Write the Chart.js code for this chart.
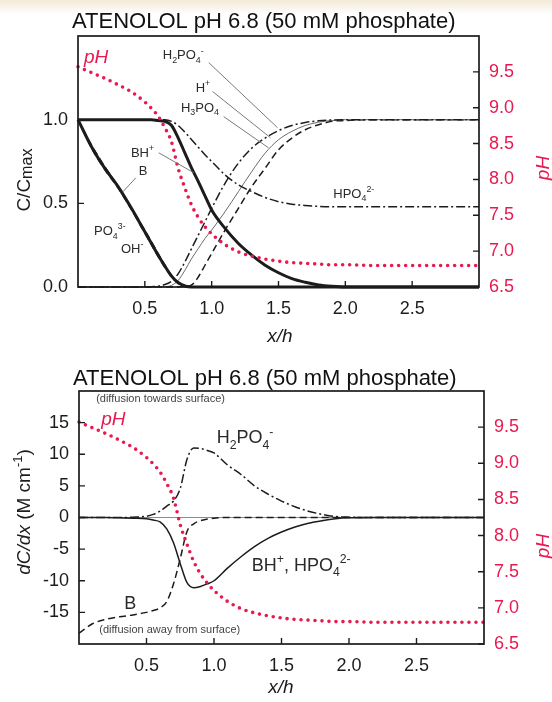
<!DOCTYPE html>
<html>
<head>
<meta charset="utf-8">
<title>Atenolol pH 6.8 profiles</title>
<script src="https://cdn.jsdelivr.net/npm/chart.js@4.4.1/dist/chart.umd.min.js"></script>
<style>
  html, body { margin: 0; padding: 0; }
  body { width: 552px; height: 702px; background: linear-gradient(#f3ead6 0px, #ffffff 14px); }
  canvas { display: block; }
</style>
</head>
<body>
<canvas id="concChart" width="552" height="351"></canvas>
<canvas id="gradChart" width="552" height="351"></canvas>
<script>
// distance from the surface, x/h
const xh = [0, 0.1, 0.2, 0.3, 0.4, 0.5, 0.55, 0.6, 0.65, 0.7, 0.75, 0.8, 0.85, 0.9, 0.95, 1.0,
            1.1, 1.2, 1.3, 1.4, 1.5, 1.6, 1.7, 1.8, 1.9, 2.0, 2.2, 2.5, 3.0];

// pH profile (right axis, same in both panels)
const pH = [9.57, 9.49, 9.41, 9.32, 9.22, 9.08, 8.99, 8.88, 8.72, 8.52, 8.15, 7.88, 7.64, 7.47, 7.34, 7.24,
            7.09, 6.99, 6.93, 6.89, 6.86, 6.84, 6.83, 6.82, 6.81, 6.81, 6.8, 6.8, 6.8];

// top panel: C/Cmax
const cBH = [1, 1, 1, 1, 1, 1, 1, 0.995, 0.99, 0.965, 0.89, 0.8, 0.71, 0.63, 0.545, 0.46,
             0.35, 0.26, 0.19, 0.13, 0.085, 0.05, 0.028, 0.012, 0.004, 0, 0, 0, 0];
const cB = [1, 0.84, 0.71, 0.6, 0.47, 0.33, 0.26, 0.19, 0.125, 0.065, 0.025, 0.006, 0, 0, 0, 0,
            0, 0, 0, 0, 0, 0, 0, 0, 0, 0, 0, 0, 0];
const cPO4 = [1, 0.85, 0.72, 0.6, 0.47, 0.34, 0.27, 0.2, 0.13, 0.07, 0.03, 0.008, 0, 0, 0, 0,
              0, 0, 0, 0, 0, 0, 0, 0, 0, 0, 0, 0, 0];
const cOH = [1, 0.83, 0.7, 0.59, 0.46, 0.32, 0.25, 0.18, 0.115, 0.06, 0.02, 0.004, 0, 0, 0, 0,
             0, 0, 0, 0, 0, 0, 0, 0, 0, 0, 0, 0, 0];
const cHPO4 = [1, 1, 1, 1, 1, 1, 1, 1, 1, 0.99, 0.965, 0.925, 0.88, 0.835, 0.79, 0.75,
               0.67, 0.61, 0.57, 0.535, 0.51, 0.495, 0.487, 0.482, 0.48, 0.48, 0.48, 0.48, 0.48];
const cH2PO4 = [0, 0, 0, 0, 0, 0, 0.002, 0.005, 0.015, 0.035, 0.08, 0.15, 0.23, 0.31, 0.39, 0.47,
                0.62, 0.74, 0.83, 0.89, 0.935, 0.965, 0.983, 0.993, 0.998, 1, 1, 1, 1];
const cH = [0, 0, 0, 0, 0, 0, 0, 0, 0.002, 0.01, 0.04, 0.1, 0.17, 0.23, 0.29, 0.34,
            0.45, 0.57, 0.69, 0.8, 0.88, 0.93, 0.965, 0.985, 0.995, 1, 1, 1, 1];
const cH3PO4 = [0, 0, 0, 0, 0, 0, 0, 0, 0, 0, 0, 0.004, 0.012, 0.06, 0.13, 0.2,
                0.34, 0.47, 0.6, 0.71, 0.82, 0.89, 0.94, 0.97, 0.99, 0.995, 1, 1, 1];

// bottom panel: dC/dx (M cm-1)
const gH2PO4 = [0, 0, 0, 0, 0.05, 0.2, 0.5, 1.0, 1.8, 2.6, 4.6, 9.2, 11.0, 10.9, 10.6, 10.2,
                8.3, 6.8, 5.0, 3.7, 2.6, 1.7, 1.0, 0.5, 0.15, 0.05, 0, 0, 0];
const gBH = [0, 0, 0, -0.05, -0.1, -0.2, -0.4, -0.7, -1.8, -4.0, -7.3, -10.3, -11.1, -10.9, -10.5, -10.0,
             -8.0, -6.2, -4.6, -3.3, -2.3, -1.5, -0.9, -0.5, -0.2, -0.05, 0, 0, 0];
const gB = [-18.3, -16.8, -16.1, -15.7, -15.4, -15.0, -14.7, -14.3, -13.3, -10.5, -6.5, -2.2, -1.0, -0.5, -0.25, -0.1,
            0, 0, 0, 0, 0, 0, 0, 0, 0, 0, 0, 0, 0];

// tick labels
const xTicks = [0.5, 1.0, 1.5, 2.0, 2.5];
const concTicks = [0, 0.5, 1.0];
const gradTicks = [-15, -10, -5, 0, 5, 10, 15];
const pHTicks = [6.5, 7.0, 7.5, 8.0, 8.5, 9.0, 9.5];

const TITLE = 'ATENOLOL pH 6.8 (50 mM phosphate)';
const FONT = '"Liberation Sans", Arial, Helvetica, sans-serif';
const INK = '#1c1c1c';
const PINK = '#e8194f';
const DASH = [7, 4];
const DASHDOT = [9, 3, 2, 3];

// text labels placed in data units: [x, y, parts, size, color]
const sub = t => [t, 'sub'];
const sup = t => [t, 'sup'];
const concNotes = [
  [0.045, 1.34, [['pH', 'i']], 19, PINK],
  [0.634, 1.36, [['H'], sub('2'), ['PO'], sub('4'), sup('-')], 13],
  [0.88, 1.168, [['H'], sup('+')], 13],
  [0.77, 1.048, [['H'], sub('3'), ['PO'], sub('4')], 13],
  [0.396, 0.778, [['BH'], sup('+')], 13],
  [0.455, 0.671, [['B']], 13],
  [0.12, 0.311, [['PO'], sub('4'), sup('3-')], 13],
  [0.321, 0.204, [['OH'], sup('-')], 13],
  [1.91, 0.533, [['HPO'], sub('4'), sup('2-')], 13]
];
const concLeaders = [
  [0.978, 1.341, 1.493, 0.952],
  [1.007, 1.168, 1.44, 0.892],
  [1.09, 1.018, 1.425, 0.832],
  [0.604, 0.802, 0.866, 0.683],
  [0.433, 0.653, 0.336, 0.569]
];
const gradNotes = [
  [0.127, 18.2, [['(diffusion towards surface)']], 11, '#444'],
  [0.164, 14.7, [['pH', 'i']], 19, PINK],
  [1.02, 11.7, [['H'], sub('2'), ['PO'], sub('4'), sup('-')], 18],
  [1.28, -8.4, [['BH'], sup('+'), [', HPO'], sub('4'), sup('2-')], 18],
  [0.336, -14.5, [['B']], 18],
  [0.15, -18.3, [['(diffusion away from surface)']], 11, '#444']
];

function rich(ctx, x, y, parts, size, color, align) {
  const sizeOf = p => (p[1] === 'sub' || p[1] === 'sup') ? size * 0.68 : p[1] === 'sm' ? size * 0.85 : size;
  const fontOf = p => (p[1] === 'i' ? 'italic ' : '') + sizeOf(p) + 'px ' + FONT;
  let w = 0;
  parts.forEach(p => { ctx.font = fontOf(p); w += ctx.measureText(p[0]).width; });
  let cx = align === 'center' ? x - w / 2 : x;
  ctx.fillStyle = color || '#2a2a2a';
  ctx.textAlign = 'left';
  ctx.textBaseline = 'alphabetic';
  parts.forEach(p => {
    ctx.font = fontOf(p);
    const dy = p[1] === 'sub' ? size * 0.28 : p[1] === 'sup' ? -size * 0.42 : p[1] === 'sm' ? size * 0.08 : 0;
    ctx.fillText(p[0], cx, y + dy);
    cx += ctx.measureText(p[0]).width;
  });
}

function rotated(ctx, x, y, parts, size, color) {
  ctx.save();
  ctx.translate(x, y);
  ctx.rotate(-Math.PI / 2);
  rich(ctx, 0, 0, parts, size, color, 'center');
  ctx.restore();
}

// frame, inward ticks, zero line, annotations and titles
const decor = {
  id: 'decor',
  beforeDatasetsDraw(chart, args, o) {
    if (!o.zeroLine) return;
    const { ctx, chartArea: a, scales } = chart;
    const p = scales.y.getPixelForValue(0);
    ctx.save();
    ctx.strokeStyle = '#8c8c8c';
    ctx.lineWidth = 1;
    ctx.beginPath(); ctx.moveTo(a.left, p); ctx.lineTo(a.right, p); ctx.stroke();
    ctx.restore();
  },
  afterDatasetsDraw(chart, args, o) {
    const { ctx, chartArea: a, scales } = chart;
    const sx = scales.x, sy = scales.y, sp = scales.pH;
    ctx.save();
    ctx.strokeStyle = '#7a7a7a';
    ctx.lineWidth = 1;
    (o.leaders || []).forEach(l => {
      ctx.beginPath();
      ctx.moveTo(sx.getPixelForValue(l[0]), sy.getPixelForValue(l[1]));
      ctx.lineTo(sx.getPixelForValue(l[2]), sy.getPixelForValue(l[3]));
      ctx.stroke();
    });

    ctx.strokeStyle = INK;
    ctx.lineWidth = 1.7;
    ctx.strokeRect(a.left, a.top, a.right - a.left, a.bottom - a.top);
    ctx.lineWidth = 1.4;
    ctx.beginPath();
    sx.ticks.forEach(t => { const p = sx.getPixelForValue(t.value); ctx.moveTo(p, a.bottom); ctx.lineTo(p, a.bottom - 6); });
    sy.ticks.forEach(t => { const p = sy.getPixelForValue(t.value); ctx.moveTo(a.left, p); ctx.lineTo(a.left + 6, p); });
    sp.ticks.forEach(t => { const p = sp.getPixelForValue(t.value); ctx.moveTo(a.right, p); ctx.lineTo(a.right - 6, p); });
    ctx.stroke();

    (o.notes || []).forEach(n => rich(ctx, sx.getPixelForValue(n[0]), sy.getPixelForValue(n[1]), n[2], n[3], n[4]));

    rich(ctx, o.titleX, o.titleY, [[TITLE]], 22, '#111');
    rich(ctx, o.xTitleX, o.xTitleY, [['x/h', 'i']], 19, INK, 'center');
    rotated(ctx, 30, o.yTitleY, o.yTitle, 19, INK);
    rotated(ctx, 549, o.pHTitleY, [['pH', 'i']], 19, PINK);
    ctx.restore();
  }
};

function series(ys, style, axis) {
  return Object.assign({
    data: ys.map((y, i) => ({ x: xh[i], y })),
    yAxisID: axis || 'y',
    borderColor: INK,
    borderWidth: 1.5,
    pointRadius: 0,
    fill: false,
    clip: false,
    cubicInterpolationMode: 'monotone'
  }, style);
}

const pHSeries = () => series(pH, { borderColor: PINK, borderWidth: 3.6, borderDash: [0, 7], borderCapStyle: 'round' }, 'pH');

function tickFont() { return { family: FONT, size: 18 }; }

function buildOptions(box, yMin, yMax, yTicks, yFmt, decorOpts) {
  return {
    responsive: false,
    animation: false,
    events: [],
    layout: { padding: { top: box.top, left: 0, right: 0, bottom: 0 } },
    scales: {
      x: {
        type: 'linear', min: 0, max: 3,
        grid: { display: false, drawTicks: false }, border: { display: false },
        afterBuildTicks: s => { s.ticks = xTicks.map(v => ({ value: v })); },
        afterFit: s => { s.height = box.xHeight; },
        ticks: { padding: 11, color: INK, font: tickFont(), maxRotation: 0, autoSkip: false, callback: v => v.toFixed(1) }
      },
      y: {
        type: 'linear', position: 'left', min: yMin, max: yMax,
        grid: { display: false, drawTicks: false }, border: { display: false },
        afterBuildTicks: s => { s.ticks = yTicks.map(v => ({ value: v })); },
        afterFit: s => { s.width = box.left; },
        ticks: { padding: 10, color: INK, font: tickFont(), autoSkip: false, callback: yFmt }
      },
      pH: {
        type: 'linear', position: 'right', min: 6.5, max: 10,
        grid: { display: false, drawTicks: false }, border: { display: false },
        afterBuildTicks: s => { s.ticks = pHTicks.map(v => ({ value: v })); },
        afterFit: s => { s.width = box.right; },
        ticks: { padding: 10, color: PINK, font: tickFont(), autoSkip: false, callback: v => v.toFixed(1) }
      }
    },
    plugins: { legend: { display: false }, tooltip: { enabled: false }, decor: decorOpts }
  };
}

new Chart(document.getElementById('concChart'), {
  type: 'line',
  data: {
    datasets: [
      pHSeries(),
      series(cBH, { borderWidth: 3 }),
      series(cB, { borderWidth: 3 }),
      series(cPO4, { borderDash: DASH }),
      series(cOH, { borderDash: DASH, borderWidth: 1.2 }),
      series(cHPO4, { borderDash: DASHDOT }),
      series(cH2PO4, { borderDash: DASHDOT }),
      series(cH, { borderWidth: 1, borderColor: '#6a6a6a' }),
      series(cH3PO4, { borderDash: DASH })
    ]
  },
  options: buildOptions({ top: 36, xHeight: 64, left: 78, right: 73 }, 0, 1.5, concTicks, v => v.toFixed(1), {
    notes: concNotes, leaders: concLeaders,
    titleX: 72, titleY: 28, xTitleX: 280, xTitleY: 342, yTitleY: 180, pHTitleY: 168,
    yTitle: [['C/C'], ['max', 'sm']]
  }),
  plugins: [decor]
});

new Chart(document.getElementById('gradChart'), {
  type: 'line',
  data: {
    datasets: [
      pHSeries(),
      series(gH2PO4, { borderDash: DASHDOT }),
      series(gBH, {}),
      series(gB, { borderDash: DASH })
    ]
  },
  options: buildOptions({ top: 40, xHeight: 58, left: 79, right: 68 }, -20, 20, gradTicks, v => String(v), {
    notes: gradNotes, zeroLine: true,
    titleX: 73, titleY: 34, xTitleX: 281, xTitleY: 342, yTitleY: 161,
    pHTitleY: 195,
    yTitle: [['dC/dx', 'i'], [' (M cm'], ['-1', 'sup'], [')']]
  }),
  plugins: [decor]
});
</script>
</body>
</html>
